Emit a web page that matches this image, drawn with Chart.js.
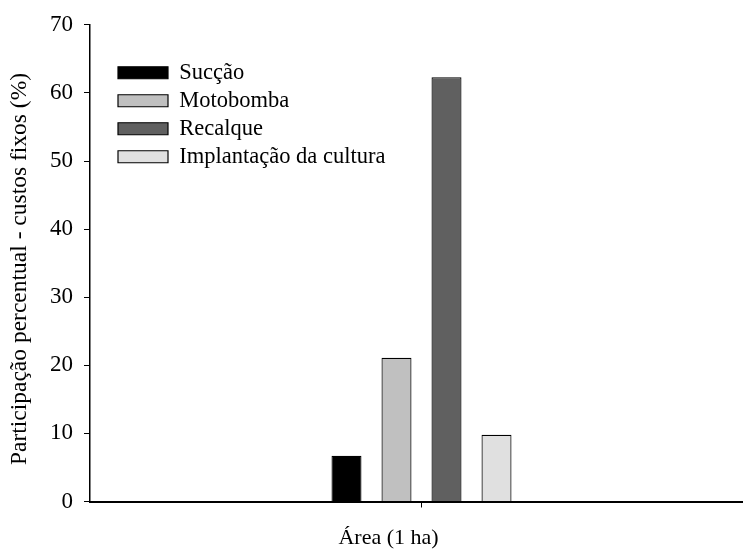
<!DOCTYPE html>
<html>
<head>
<meta charset="utf-8">
<script src="https://cdn.jsdelivr.net/npm/chart.js@4.4.1/dist/chart.umd.min.js"></script>
<style>
  html, body { margin: 0; padding: 0; background: #fff; overflow: hidden; }
  #wrap { width: 760px; height: 549px; position: relative; }
</style>
</head>
<body>
<div id="wrap"><canvas id="c"></canvas></div>
<script>
const categories = ['Área (1 ha)'];
const seriesNames = ['Sucção', 'Motobomba', 'Recalque', 'Implantação da cultura'];
const succao = [6.7];
const motobomba = [21.1];
const recalque = [62.3];
const implantacao = [9.8];
const yTicks = [0, 10, 20, 30, 40, 50, 60, 70];
const seriesColors = ['#000000', '#c0c0c0', '#606060', '#e0e0e0'];
const xTitle = 'Área (1 ha)';
const yTitle = 'Participação percentual - custos fixos (%)';

const FONT = "'Liberation Serif', 'Times New Roman', serif";
const seriesValues = [succao, motobomba, recalque, implantacao];

const legendShift = {
  id: 'legendShift',
  afterLayout(chart) {
    if (chart.legend) {
      chart.legend.left += 22.5;
      chart.legend.top += 56;
    }
  }
};

new Chart(document.getElementById('c'), {
  type: 'bar',
  data: {
    labels: [''],
    datasets: seriesNames.map((name, i) => ({
      label: name,
      data: seriesValues[i],
      backgroundColor: seriesColors[i],
      borderColor: '#000000',
      borderWidth: 1.2,
      barPercentage: 0.6,
      categoryPercentage: 0.3017
    }))
  },
  options: {
    responsive: true,
    maintainAspectRatio: false,
    animation: false,
    devicePixelRatio: 1,
    layout: { padding: { left: 0, right: 7, top: 23.5, bottom: 0 } },
    plugins: {
      legend: {
        position: 'chartArea',
        align: 'start',
        labels: {
          boxWidth: 50,
          boxHeight: 12,
          padding: 5.5,
          color: '#000',
          font: { family: FONT, size: 22.5 }
        }
      },
      tooltip: { enabled: false }
    },
    scales: {
      x: {
        afterFit(s) { s.height = 47.5; },
        grid: {
          offset: false,
          drawOnChartArea: false,
          drawTicks: true,
          tickLength: 6,
          color: '#000',
          lineWidth: 1
        },
        border: { display: true, color: '#000', width: 2 },
        ticks: { display: true, font: { family: FONT, size: 19 }, color: '#000' },
        title: {
          display: true,
          text: xTitle + '\u2002\u2002\u2002\u2002\u2002\u2002',
          color: '#000',
          font: { family: FONT, size: 22 },
          padding: { top: 0, bottom: -2.5 }
        }
      },
      y: {
        min: 0,
        max: 70,
        afterFit(s) { s.width = 90; },
        afterBuildTicks(s) { s.ticks = yTicks.map(v => ({ value: v })); },
        grid: {
          drawOnChartArea: false,
          drawTicks: true,
          tickLength: 6,
          color: '#000',
          lineWidth: 1
        },
        border: { display: true, color: '#000', width: 1.5 },
        ticks: {
          padding: 11,
          color: '#000',
          font: { family: FONT, size: 23 }
        },
        title: {
          display: true,
          text: yTitle + '\u2002',
          color: '#000',
          font: { family: FONT, size: 23.5 },
          padding: { top: 6, bottom: 0 }
        }
      }
    }
  },
  plugins: [legendShift]
});
</script>
</body>
</html>
